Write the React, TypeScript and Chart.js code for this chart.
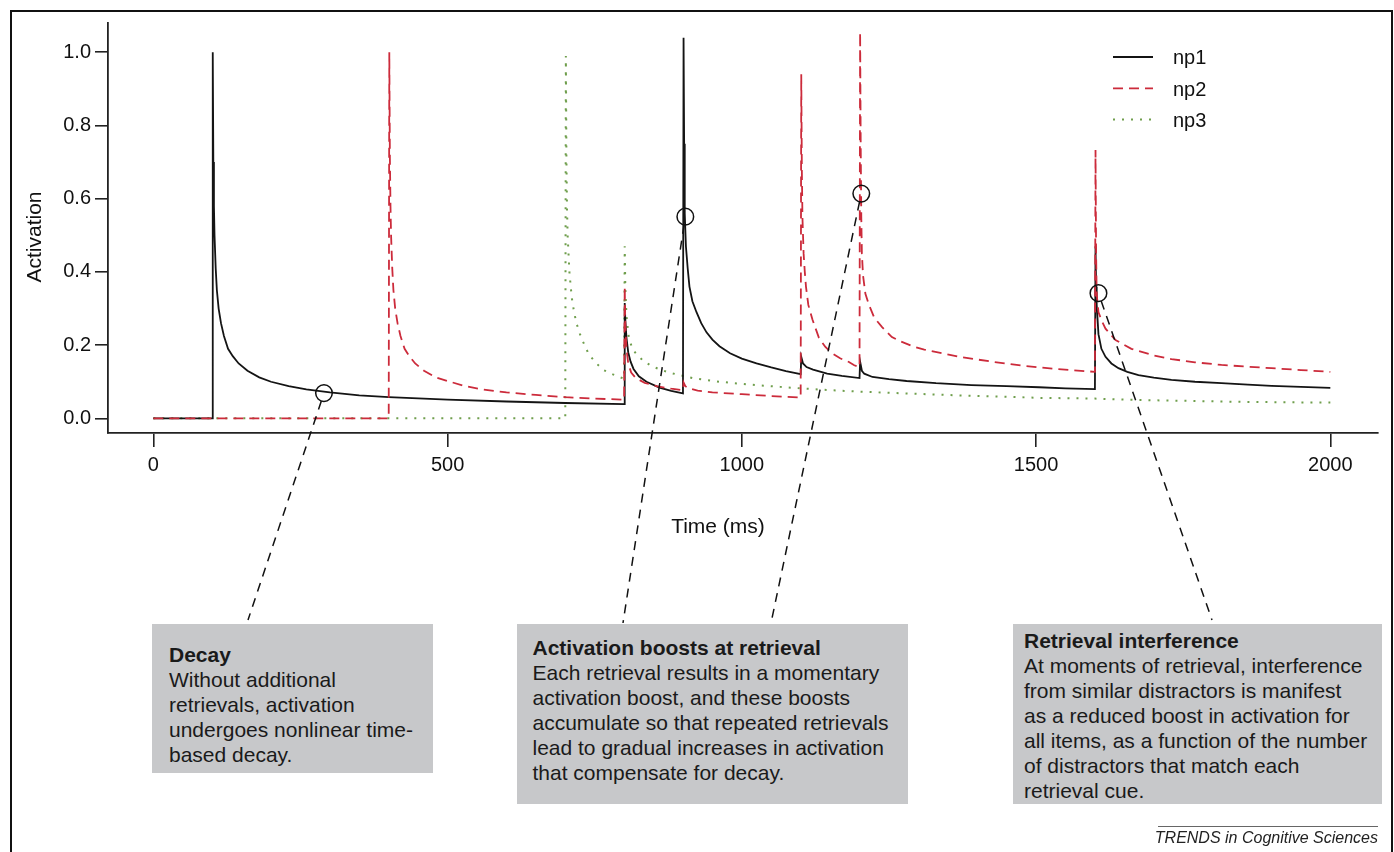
import React, { useEffect, useRef } from "react";
import { Chart, registerables } from "chart.js";

Chart.register(...registerables);

const FONT = '"Liberation Sans", Arial, Helvetica, sans-serif';

// ---------- data ----------
const xTicks = [0, 500, 1000, 1500, 2000];
const yTicks = [0, 0.2, 0.4, 0.6, 0.8, 1.0];
const seriesNames = ["np1", "np2", "np3"];

const np1Time = [
  0, 100, 101, 102, 103, 104, 106, 108, 111, 115, 120, 127, 135, 145, 160, 180, 200, 230, 260, 300, 350, 400, 500, 600, 700, 800,
  801, 802, 804, 807, 811, 816, 825, 838, 860, 880, 900,
  901, 902, 903, 905, 908, 911, 916, 923, 931, 940, 950, 962, 980, 1000, 1025, 1050, 1075, 1100,
  1101, 1104, 1110, 1121, 1145, 1170, 1200,
  1201, 1204, 1208, 1222, 1250, 1280, 1330, 1390, 1450, 1505, 1550, 1600,
  1601, 1602, 1603, 1606, 1611, 1618, 1628, 1640, 1655, 1674, 1700, 1730, 1770, 1815, 1860, 1900, 1950, 2000,
];
const np1Value = [
  0, 0, 1.0, 0.70, 0.58, 0.50, 0.41, 0.35, 0.30, 0.26, 0.225, 0.19, 0.17, 0.15, 0.13, 0.112, 0.10, 0.088, 0.079, 0.071, 0.063, 0.058, 0.051, 0.046, 0.042, 0.039,
  0.315, 0.27, 0.22, 0.18, 0.155, 0.135, 0.115, 0.10, 0.084, 0.075, 0.068,
  1.04, 0.75, 0.56, 0.47, 0.41, 0.36, 0.32, 0.29, 0.26, 0.235, 0.215, 0.197, 0.178, 0.163, 0.15, 0.139, 0.129, 0.121,
  0.168, 0.15, 0.14, 0.133, 0.122, 0.116, 0.11,
  0.155, 0.13, 0.122, 0.113, 0.107, 0.102, 0.096, 0.091, 0.088, 0.085, 0.082, 0.08,
  0.47, 0.36, 0.31, 0.23, 0.19, 0.168, 0.15, 0.137, 0.127, 0.118, 0.111, 0.105, 0.1, 0.096, 0.092, 0.089, 0.086, 0.083,
];

const np2Time = [
  0, 400, 401, 402, 403, 404, 406, 408, 411, 415, 420, 427, 435, 445, 460, 480, 500, 530, 560, 600, 650, 700, 750, 800,
  801, 802, 804, 807, 812, 820, 835, 855, 880, 900,
  901, 904, 910, 925, 950, 1000, 1050, 1100,
  1101, 1102, 1103, 1105, 1107, 1109, 1113, 1120, 1131, 1142, 1153, 1167, 1182, 1191, 1200,
  1201, 1202, 1203, 1204, 1206, 1210, 1216, 1225, 1238, 1255, 1270, 1290, 1310, 1340, 1370, 1420, 1476, 1533, 1600,
  1601, 1602, 1603, 1606, 1612, 1618, 1635, 1662, 1700, 1730, 1770, 1815, 1860, 1900, 1950, 2000,
];
const np2Value = [
  0, 0, 1.0, 0.71, 0.58, 0.50, 0.41, 0.35, 0.30, 0.26, 0.225, 0.19, 0.17, 0.15, 0.13, 0.112, 0.102, 0.088, 0.079, 0.071, 0.064, 0.058, 0.054, 0.051,
  0.36, 0.26, 0.19, 0.15, 0.125, 0.11, 0.097, 0.088, 0.081, 0.077,
  0.098, 0.088, 0.082, 0.076, 0.071, 0.066, 0.061, 0.057,
  0.94, 0.68, 0.55, 0.45, 0.40, 0.36, 0.31, 0.27, 0.22, 0.195, 0.178, 0.164, 0.154, 0.145, 0.14,
  1.055, 0.75, 0.55, 0.45, 0.39, 0.34, 0.31, 0.275, 0.25, 0.222, 0.21, 0.197, 0.188, 0.178, 0.168, 0.156, 0.144, 0.135, 0.127,
  0.733, 0.45, 0.34, 0.29, 0.265, 0.245, 0.214, 0.19, 0.172, 0.162, 0.153, 0.146, 0.141, 0.137, 0.132, 0.127,
];

const np3Time = [
  0, 700, 701, 702, 703, 704, 707, 711, 715, 719, 725, 730, 740, 753, 765, 781, 800,
  801, 802, 804, 808, 814, 821, 834, 848, 865, 882, 900, 916, 940, 962, 995, 1030, 1065, 1100,
  1150, 1200, 1280, 1364, 1430, 1505, 1600, 1674, 1750, 1850, 2000,
];
const np3Value = [
  0, 0, 0.99, 0.70, 0.57, 0.50, 0.40, 0.33, 0.29, 0.26, 0.23, 0.21, 0.175, 0.15, 0.132, 0.12, 0.108,
  0.47, 0.36, 0.28, 0.22, 0.19, 0.175, 0.155, 0.142, 0.131, 0.123, 0.116, 0.11, 0.105, 0.1, 0.095, 0.09, 0.086, 0.082,
  0.077, 0.073, 0.068, 0.063, 0.06, 0.056, 0.054, 0.05, 0.048, 0.045, 0.043,
];

// circled points (time, activation)
const circleTime = [290, 904, 1203, 1606];
const circleValue = [0.069, 0.551, 0.614, 0.342];

// ---------- layout / style ----------
const W = 1394;
const H = 852;
const AREA = { left: 108, top: 23, right: 1378, bottom: 433 };
const X_AXIS_H = 60;
const calloutEnds = [
  { x: 248, y: 620 },
  { x: 623, y: 623 },
  { x: 771, y: 623 },
  { x: 1212, y: 620 },
];
const COLORS = ["#141414", "#cc2b3b", "#6f9e4c"];
const WIDTHS = [1.8, 1.8, 2];
const DASHES: number[][] = [[], [10, 6], [2, 7]];

const toPoints = (t: number[], v: number[]) => t.map((x, i) => ({ x, y: v[i] }));

const overlayPlugin = {
  id: "overlay",
  afterDatasetsDraw(chart: any) {
    const ctx: CanvasRenderingContext2D = chart.ctx;
    const xs = chart.scales.x;
    const ys = chart.scales.y;
    ctx.save();
    const r = 8.3;
    circleTime.forEach((t, i) => {
      const cx = xs.getPixelForValue(t);
      const cy = ys.getPixelForValue(circleValue[i]);
      ctx.setLineDash([]);
      ctx.strokeStyle = "#111";
      ctx.lineWidth = 1.5;
      ctx.beginPath();
      ctx.arc(cx, cy, r, 0, Math.PI * 2);
      ctx.stroke();
      const e = calloutEnds[i];
      const dx = e.x - cx;
      const dy = e.y - cy;
      const len = Math.hypot(dx, dy);
      ctx.setLineDash([9, 7]);
      ctx.lineWidth = 1.5;
      ctx.beginPath();
      ctx.moveTo(cx + (dx / len) * r, cy + (dy / len) * r);
      ctx.lineTo(e.x, e.y);
      ctx.stroke();
    });
    const lx0 = 1113;
    const lx1 = 1153;
    const ly0 = 57;
    const lstep = 31.3;
    ctx.font = `20px ${FONT}`;
    ctx.textAlign = "left";
    ctx.textBaseline = "alphabetic";
    seriesNames.forEach((name, i) => {
      const y = ly0 + i * lstep;
      ctx.setLineDash(DASHES[i]);
      ctx.strokeStyle = COLORS[i];
      ctx.lineWidth = WIDTHS[i];
      ctx.beginPath();
      ctx.moveTo(lx0, y);
      ctx.lineTo(lx1, y);
      ctx.stroke();
      ctx.fillStyle = "#111";
      ctx.fillText(name, 1173, y + 7.2);
    });
    ctx.restore();
  },
  afterDraw(chart: any) {
    const ctx: CanvasRenderingContext2D = chart.ctx;
    ctx.save();
    ctx.fillStyle = "#111";
    ctx.font = `21px ${FONT}`;
    ctx.textAlign = "center";
    ctx.textBaseline = "middle";
    ctx.fillText("Time (ms)", 718, 527);
    ctx.translate(35, 237);
    ctx.rotate(-Math.PI / 2);
    ctx.fillText("Activation", 0, 0);
    ctx.restore();
  },
};

function ActivationChart() {
  const ref = useRef<HTMLCanvasElement | null>(null);
  useEffect(() => {
    if (!ref.current) return;
    const data = [toPoints(np1Time, np1Value), toPoints(np2Time, np2Value), toPoints(np3Time, np3Value)];
    const orders = [1, 0, 2];
    const chart = new Chart(ref.current, {
      type: "line",
      data: {
        datasets: seriesNames.map((name, i) => ({
          label: name,
          data: data[i],
          borderColor: COLORS[i],
          borderWidth: WIDTHS[i],
          borderDash: DASHES[i],
          pointRadius: 0,
          tension: 0,
          fill: false,
          order: orders[i],
        })),
      },
      options: {
        animation: false,
        responsive: false,
        devicePixelRatio: 1,
        events: [],
        layout: {
          padding: { left: 0, top: AREA.top, right: W - AREA.right, bottom: H - AREA.bottom - X_AXIS_H },
        },
        plugins: { legend: { display: false }, tooltip: { enabled: false }, title: { display: false } },
        scales: {
          x: {
            type: "linear",
            min: -77,
            max: 2081,
            afterFit: (s: any) => {
              s.height = X_AXIS_H;
            },
            afterBuildTicks: (s: any) => {
              s.ticks = xTicks.map((v) => ({ value: v }));
            },
            grid: { drawOnChartArea: false, drawTicks: true, tickLength: 14, color: "#222", lineWidth: 1.6 },
            border: { display: true, color: "#222", width: 1.8 },
            ticks: {
              font: { family: FONT, size: 20 },
              color: "#111",
              padding: 6,
              maxRotation: 0,
              autoSkip: false,
              callback: (v: any) => String(v),
            },
          },
          y: {
            type: "linear",
            min: -0.04,
            max: 1.08,
            afterFit: (s: any) => {
              s.width = AREA.left;
            },
            afterBuildTicks: (s: any) => {
              s.ticks = yTicks.map((v) => ({ value: v }));
            },
            grid: { drawOnChartArea: false, drawTicks: true, tickLength: 13, color: "#222", lineWidth: 1.6 },
            border: { display: true, color: "#222", width: 1.8 },
            ticks: {
              font: { family: FONT, size: 20 },
              color: "#111",
              padding: 4,
              autoSkip: false,
              callback: (v: any) => Number(v).toFixed(1),
            },
          },
        },
      },
      plugins: [overlayPlugin],
    } as any);
    return () => chart.destroy();
  }, []);
  return <canvas ref={ref} width={W} height={H} style={{ position: "absolute", left: 0, top: 0, width: W, height: H }} />;
}

const boxText: React.CSSProperties = {
  position: "absolute",
  background: "#c7c8ca",
  color: "#1a1a1a",
  fontFamily: FONT,
  fontSize: 21,
  lineHeight: "25px",
  whiteSpace: "nowrap",
  boxSizing: "border-box",
};

const boxes = [
  {
    left: 152, top: 624, width: 281, height: 149, padL: 17, padT: 17.5,
    title: "Decay",
    lines: ["Without additional", "retrievals, activation", "undergoes nonlinear time-", "based decay."],
  },
  {
    left: 517, top: 624, width: 391, height: 180, padL: 15.5, padT: 10.5,
    title: "Activation boosts at retrieval",
    lines: [
      "Each retrieval results in a momentary",
      "activation boost, and these boosts",
      "accumulate so that repeated retrievals",
      "lead to gradual increases in activation",
      "that compensate for decay.",
    ],
  },
  {
    left: 1013, top: 624, width: 369, height: 180, padL: 11, padT: 3.5,
    title: "Retrieval interference",
    lines: [
      "At moments of retrieval, interference",
      "from similar distractors is manifest",
      "as a reduced boost in activation for",
      "all items, as a function of the number",
      "of distractors that match each",
      "retrieval cue.",
    ],
  },
];

export default function App() {
  return (
    <div style={{ position: "absolute", left: 0, top: 0, width: W, height: H, overflow: "hidden", background: "#fff" }}>
      <div
        style={{
          position: "absolute",
          left: 10,
          top: 10,
          width: 1383,
          height: 842,
          boxSizing: "border-box",
          borderLeft: "2px solid #111",
          borderTop: "2px solid #111",
          borderRight: "2px solid #111",
        }}
      />
      <ActivationChart />
      {boxes.map((b, i) => (
        <div
          key={i}
          style={{ ...boxText, left: b.left, top: b.top, width: b.width, height: b.height, paddingLeft: b.padL, paddingTop: b.padT }}
        >
          <div style={{ fontWeight: "bold" }}>{b.title}</div>
          {b.lines.map((l, j) => (
            <div key={j}>{l}</div>
          ))}
        </div>
      ))}
      <div style={{ position: "absolute", left: 1158, top: 826, width: 220, height: 0, borderTop: "1px solid #666" }} />
      <div
        style={{
          position: "absolute",
          left: 1078,
          top: 828,
          width: 300,
          height: 19,
          lineHeight: "19px",
          textAlign: "right",
          fontFamily: FONT,
          fontStyle: "italic",
          fontSize: 16,
          color: "#222",
          whiteSpace: "nowrap",
        }}
      >
        TRENDS in Cognitive Sciences
      </div>
    </div>
  );
}
